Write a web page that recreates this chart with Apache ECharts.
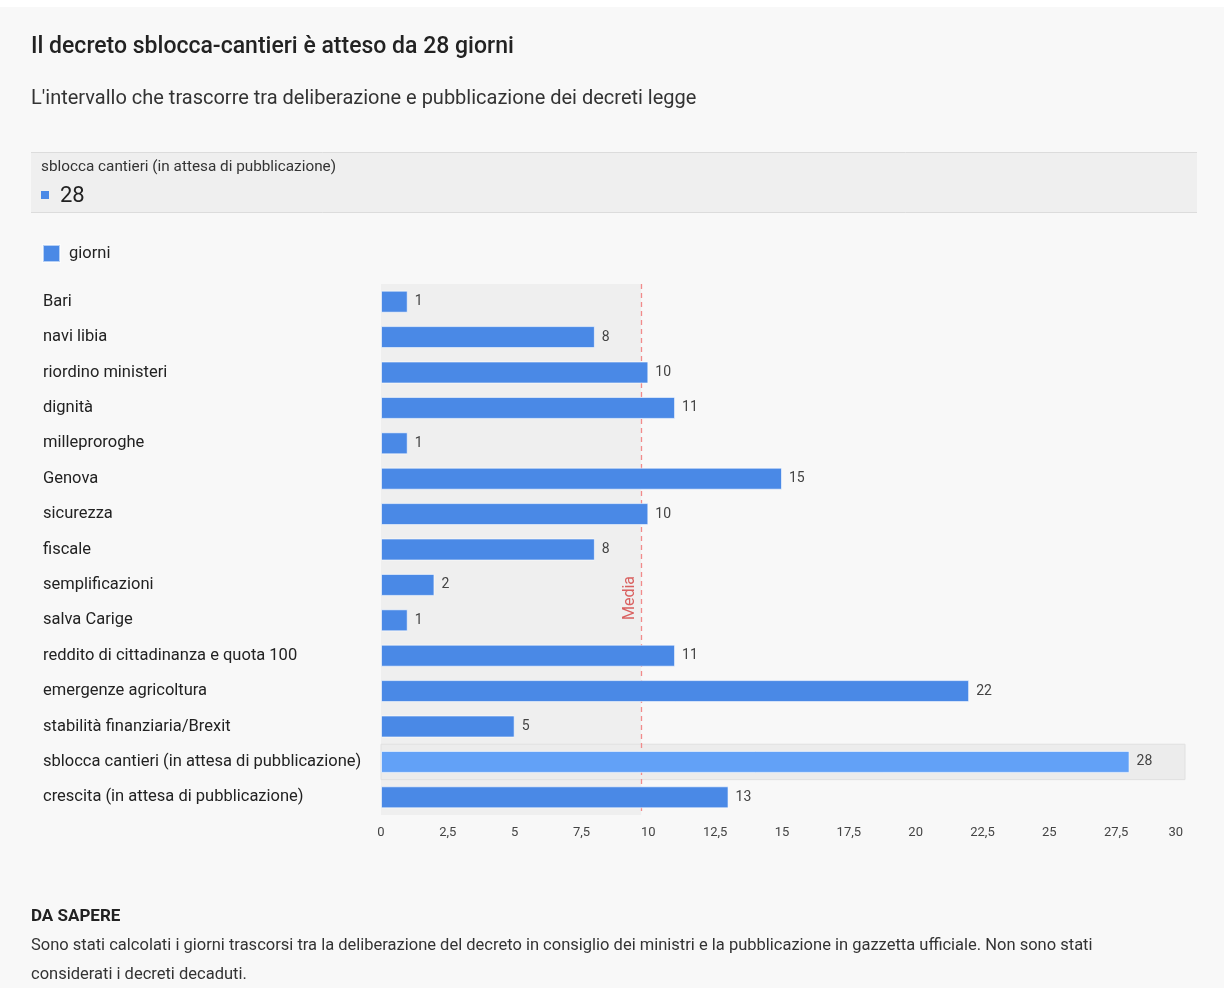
<!DOCTYPE html>
<html>
<head>
<meta charset="utf-8">
<script src="https://cdn.jsdelivr.net/npm/echarts@6/dist/echarts.min.js"></script>
<style>
  html, body { margin: 0; padding: 0; background: #fff; }
  #chart { width: 1224px; height: 988px; }
</style>
</head>
<body>
<div id="chart"></div>
<script>
// Giorni tra deliberazione e pubblicazione dei decreti legge.
const categories = [
  'Bari',
  'navi libia',
  'riordino ministeri',
  'dignità',
  'milleproroghe',
  'Genova',
  'sicurezza',
  'fiscale',
  'semplificazioni',
  'salva Carige',
  'reddito di cittadinanza e quota 100',
  'emergenze agricoltura',
  'stabilità finanziaria/Brexit',
  'sblocca cantieri (in attesa di pubblicazione)',
  'crescita (in attesa di pubblicazione)',
];
const giorni = [1, 8, 10, 11, 1, 15, 10, 8, 2, 1, 11, 22, 5, 28, 13];
const highlighted = 'sblocca cantieri (in attesa di pubblicazione)';

const FONT = 'Roboto, "Noto Sans", sans-serif';
const BAR = '#4a89e6';
const BAR_HOVER = '#62a1f7';
const GRID = { left: 381, right: 41, top: 284, bottom: 173 };

const mean = giorni.reduce((a, b) => a + b, 0) / giorni.length;
const hiIndex = categories.indexOf(highlighted);

const chart = echarts.init(document.getElementById('chart'), null, { renderer: 'canvas' });

const fmtNum = (v) => String(v).replace('.', ',');

chart.setOption({
  backgroundColor: '#f8f8f8',
  animation: false,
  textStyle: { fontFamily: FONT },
  title: {
    left: 26,
    top: 31,
    text: 'Il decreto sblocca-cantieri è atteso da 28 giorni',
    textStyle: { fontFamily: FONT, fontSize: 23, fontWeight: 500, color: '#222' },
    subtext: "L'intervallo che trascorre tra deliberazione e pubblicazione dei decreti legge",
    subtextStyle: { fontFamily: FONT, fontSize: 20, color: '#333' },
    itemGap: 30,
  },
  legend: {
    left: 37,
    top: 239,
    icon: 'rect',
    itemWidth: 17,
    itemHeight: 17,
    itemGap: 10,
    textStyle: { fontFamily: FONT, fontSize: 16.5, color: '#222', padding: [0, 0, 0, 4] },
    data: ['giorni'],
  },
  grid: Object.assign({ containLabel: false }, GRID),
  xAxis: {
    type: 'value',
    min: 0,
    max: 30,
    interval: 2.5,
    axisLine: { show: false },
    axisTick: { show: false },
    splitLine: { show: false },
    axisLabel: {
      fontFamily: FONT, fontSize: 13, color: '#444', margin: 11,
      alignMaxLabel: 'right', formatter: fmtNum,
    },
  },
  yAxis: {
    type: 'category',
    inverse: true,
    data: categories,
    axisLine: { show: false },
    axisTick: { show: false },
    axisLabel: { fontFamily: FONT, fontSize: 16.5, color: '#222', align: 'left', margin: 338 },
  },
  series: [{
    name: 'giorni',
    type: 'bar',
    barWidth: 22,
    z: 10,
    data: giorni.map((v, i) => ({
      value: v,
      itemStyle: { color: i === hiIndex ? BAR_HOVER : BAR },
    })),
    itemStyle: { color: BAR, borderColor: 'rgba(255,255,255,0.6)', borderWidth: 1 },
    label: {
      show: true,
      position: 'right',
      distance: 7,
      fontFamily: FONT,
      fontSize: 14,
      color: '#444',
    },
    markArea: {
      silent: true,
      z: 0,
      itemStyle: { color: '#efefef' },
      data: [[{ xAxis: 0 }, { xAxis: mean }]],
    },
    markLine: {
      silent: true,
      z: 2,
      symbol: ['none', 'none'],
      label: { show: false },
      lineStyle: { color: '#f28b8b', type: [5, 4], width: 1.3, opacity: 1 },
      data: [{ xAxis: mean }],
    },
  }],
});

// positions derived from the chart's own scales
const rowH = (chart.getHeight() - GRID.top - GRID.bottom) / categories.length;
const hiY = chart.convertToPixel({ yAxisIndex: 0 }, highlighted);
const x0 = chart.convertToPixel({ xAxisIndex: 0 }, 0);
const xMean = chart.convertToPixel({ xAxisIndex: 0 }, mean);
const xMax = chart.convertToPixel({ xAxisIndex: 0 }, 30);

chart.setOption({
  graphic: [
    { type: 'rect', z: 0, shape: { x: 0, y: 0, width: 1224, height: 7 }, style: { fill: '#fff' } },
    // tooltip-like header box
    { type: 'rect', z: 0, shape: { x: 31, y: 152, width: 1166, height: 61 },
      style: { fill: '#efefef' } },
    { type: 'line', z: 1, shape: { x1: 31, y1: 152.5, x2: 1197, y2: 152.5 }, style: { stroke: '#dcdcdc', lineWidth: 1 } },
    { type: 'line', z: 1, shape: { x1: 31, y1: 212.5, x2: 1197, y2: 212.5 }, style: { stroke: '#dcdcdc', lineWidth: 1 } },
    { type: 'text', z: 1, x: 41, y: 167,
      style: { text: highlighted, font: '15.3px ' + FONT, fill: '#333', verticalAlign: 'middle' } },
    { type: 'rect', z: 1, shape: { x: 41, y: 191, width: 8, height: 8 }, style: { fill: BAR } },
    { type: 'text', z: 1, x: 60, y: 196,
      style: { text: String(giorni[hiIndex]), font: '22px ' + FONT, fill: '#222', verticalAlign: 'middle' } },
    // hovered row band
    { type: 'rect', z: 1, shape: { x: x0, y: hiY - rowH / 2, width: xMax - x0 + 2, height: rowH },
      style: { fill: '#ececec', stroke: '#e0e0e0', lineWidth: 1 } },
    // mean label
    { type: 'text', z: 5, x: xMean - 11, y: 598, rotation: Math.PI / 2,
      style: { text: 'Media', font: '16px ' + FONT, fill: '#d9605f', align: 'center', verticalAlign: 'middle' } },
    // footer
    { type: 'text', z: 1, x: 31, y: 917,
      style: { text: 'DA SAPERE', font: 'bold 17px ' + FONT, fill: '#222', verticalAlign: 'middle' } },
    { type: 'text', z: 1, x: 31, y: 931.5,
      style: {
        text: 'Sono stati calcolati i giorni trascorsi tra la deliberazione del decreto in consiglio dei ministri e la pubblicazione in gazzetta ufficiale. Non sono stati\nconsiderati i decreti decaduti.',
        font: '16.5px ' + FONT, fill: '#333', lineHeight: 29, verticalAlign: 'top',
      } },
  ],
});
</script>
</body>
</html>
